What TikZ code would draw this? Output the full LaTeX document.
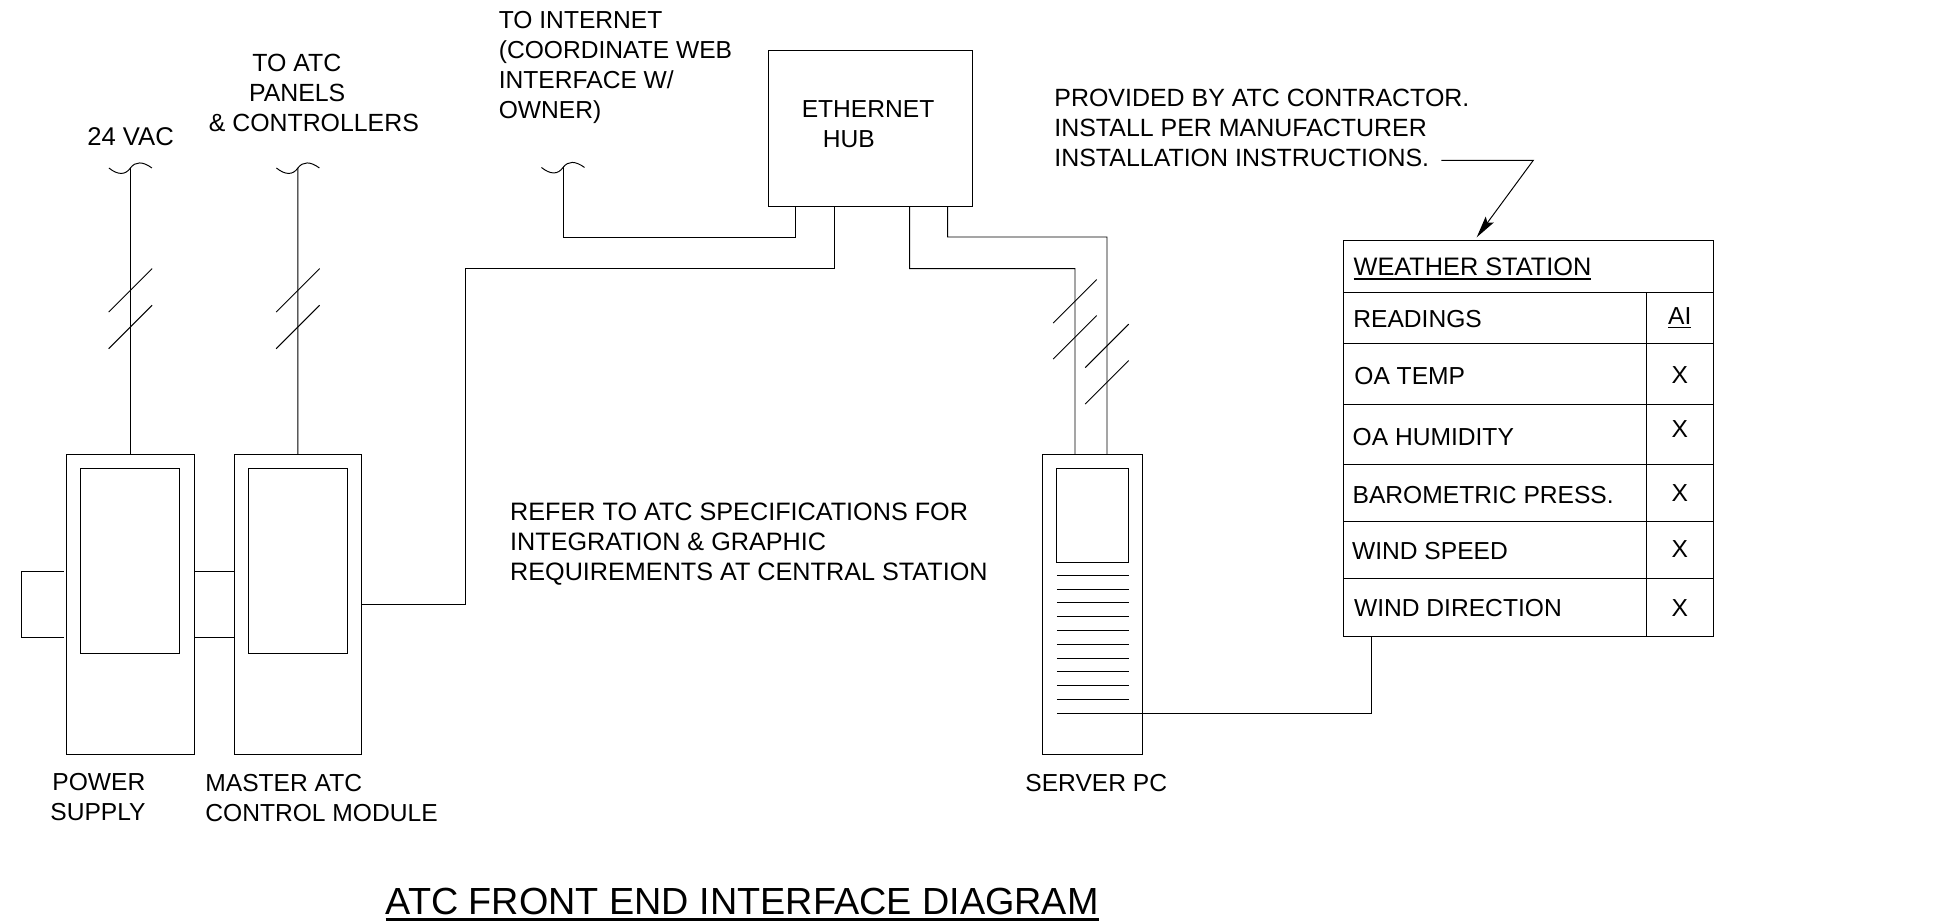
\documentclass[tikz,border=0pt]{standalone}
\usepackage{fontspec}
\usepackage{tikz}
\usetikzlibrary{
arrows.meta,
positioning
}
\setmainfont{Liberation Sans}
\newcommand{\ulined}[1]{\setbox0\hbox{#1}\rlap{\vrule width\wd0 height -0.09em depth 0.165em}\box0}

\begin{document}
\begin{tikzpicture}[
wire/.style={line width=0.55pt},
arrow/.style={wire,-{Stealth[length=0.44cm,width=0.2cm,inset=0.08cm]}},
module/.style={
draw,
wire,
inner sep=0pt,
outer sep=0pt,
minimum width=2.55cm,
minimum height=6cm
},
panel/.style={
draw,
wire,
inner sep=0pt,
outer sep=0pt,
minimum width=1.98cm,
minimum height=3.7cm
},
cell/.style={
draw,
wire,
inner sep=0pt,
outer sep=0pt,
minimum width=6.054cm
},
markcell/.style={
draw,
wire,
inner sep=0pt,
outer sep=0pt,
minimum width=1.346cm
},
txt/.style={
anchor=base west,
inner sep=0pt,
align=left,
font=\fontsize{14pt}{17.07pt}\selectfont
},
ctxt/.style={
txt,
anchor=base
},
breakmark/.pic={
\draw[wire] (-0.43,0) .. controls (-0.25,-0.145) and (-0.1,-0.145) .. (0,0)
.. controls (0.1,0.135) and (0.25,0.135) .. (0.43,0);
},
slash/.pic={
\draw[wire] (-0.435,-0.435) -- (0.435,0.435);
}
]

\useasboundingbox (0,0) rectangle (38.76,18.44);

\node[module] (supply) at (2.608,6.35) {};
\node[module,right=0.8cm of supply] (master) {};
\node[module,minimum width=2cm,right=13.623cm of master] (server) {};

\node[panel,below=0.28cm of supply.north] (supplypanel) {};
\node[panel,below=0.28cm of master.north] (masterpanel) {};
\node[panel,minimum width=1.44cm,minimum height=1.87cm,below=0.28cm of server.north] (serverscreen) {};

\node[draw,wire,inner sep=0pt,outer sep=0pt,minimum width=4.08cm,minimum height=3.126cm] (hub) at (17.41,15.877) {};

\coordinate (vac) at (2.608,15.08);
\coordinate (panels) at (5.958,15.08);
\coordinate (internet) at (11.26,15.09);

\pic at (vac) {breakmark};
\pic at (panels) {breakmark};
\pic at (internet) {breakmark};

\draw[wire] (vac) -- (supply.north);
\draw[wire] (panels) -- (master.north);
\draw[wire] (internet) -- (11.26,13.7) -| ([xshift=0.544cm]hub.south west);
\draw[wire] (master.east) -| (9.3,13.066) -| ([xshift=1.31cm]hub.south west);
\draw[wire] ([xshift=2.824cm]hub.south west) |- (21.5,13.066) -- ([xshift=-0.356cm]server.north);
\draw[wire] ([xshift=3.582cm]hub.south west) |- (22.14,13.7) -- ([xshift=0.284cm]server.north);

\pic at (2.608,12.634) {slash};
\pic at (2.608,11.9) {slash};
\pic at (5.958,12.634) {slash};
\pic at (5.958,11.9) {slash};
\pic at (21.5,12.414) {slash};
\pic at (21.5,11.694) {slash};
\pic at (22.14,11.522) {slash};
\pic at (22.14,10.794) {slash};

\draw[wire] ([shift={(-0.06,0.66)}]supply.west) -- ++(-0.85,0) -- ++(0,-1.32) -- ++(0.85,0);
\draw[wire] ([yshift=0.66cm]supply.east) -- ([yshift=0.66cm]master.west);
\draw[wire] ([yshift=-0.66cm]supply.east) -- ([yshift=-0.66cm]master.west);

\draw[wire] ([yshift=-0.266cm]serverscreen.south west) -- ([yshift=-0.266cm]serverscreen.south east);
\draw[wire] ([yshift=-0.542cm]serverscreen.south west) -- ([yshift=-0.542cm]serverscreen.south east);
\draw[wire] ([yshift=-0.818cm]serverscreen.south west) -- ([yshift=-0.818cm]serverscreen.south east);
\draw[wire] ([yshift=-1.094cm]serverscreen.south west) -- ([yshift=-1.094cm]serverscreen.south east);
\draw[wire] ([yshift=-1.37cm]serverscreen.south west) -- ([yshift=-1.37cm]serverscreen.south east);
\draw[wire] ([yshift=-1.646cm]serverscreen.south west) -- ([yshift=-1.646cm]serverscreen.south east);
\draw[wire] ([yshift=-1.922cm]serverscreen.south west) -- ([yshift=-1.922cm]serverscreen.south east);
\draw[wire] ([yshift=-2.198cm]serverscreen.south west) -- ([yshift=-2.198cm]serverscreen.south east);
\draw[wire] ([yshift=-2.474cm]serverscreen.south west) -- ([yshift=-2.474cm]serverscreen.south east);
\draw[wire] ([yshift=-2.75cm]serverscreen.south west) -- ([yshift=-2.75cm]serverscreen.south east);

\node[draw,wire,inner sep=0pt,outer sep=0pt,minimum width=7.4cm,minimum height=1.04cm] (station) at (30.566,13.12) {};
\node[cell,minimum height=1.026cm,anchor=north west] (rowreadings) at (station.south west) {};
\node[cell,minimum height=1.214cm,anchor=north west] (rowtemp) at (rowreadings.south west) {};
\node[cell,minimum height=1.206cm,anchor=north west] (rowhumidity) at (rowtemp.south west) {};
\node[cell,minimum height=1.134cm,anchor=north west] (rowpress) at (rowhumidity.south west) {};
\node[cell,minimum height=1.146cm,anchor=north west] (rowspeed) at (rowpress.south west) {};
\node[cell,minimum height=1.154cm,anchor=north west] (rowdirection) at (rowspeed.south west) {};
\node[markcell,minimum height=1.026cm,right=0cm of rowreadings] (markreadings) {};
\node[markcell,minimum height=1.214cm,right=0cm of rowtemp] (marktemp) {};
\node[markcell,minimum height=1.206cm,right=0cm of rowhumidity] (markhumidity) {};
\node[markcell,minimum height=1.134cm,right=0cm of rowpress] (markpress) {};
\node[markcell,minimum height=1.146cm,right=0cm of rowspeed] (markspeed) {};
\node[markcell,minimum height=1.154cm,right=0cm of rowdirection] (markdirection) {};

\draw[wire] ([yshift=-3.026cm]serverscreen.south west) -| ([xshift=0.56cm]rowdirection.south west);

\coordinate (notestart) at (28.826,15.234);
\coordinate (noteelbow) at (30.666,15.234);
\coordinate (notetip) at (29.534,13.694);
\draw[arrow] (notestart) -- (noteelbow) -- (notetip);

\node[txt,font=\fontsize{14.6pt}{17.07pt}\selectfont] (vaclabel) at (1.74,15.526) {24 VAC};
\node[txt,font=\fontsize{14.15pt}{17.07pt}\selectfont] (panelslabel) at (4.17,15.8) {\hspace*{0.87cm}TO ATC\\\hspace*{0.804cm}PANELS\\\& CONTROLLERS};
\node[txt] (internetlabel) at (9.97,16.074) {TO INTERNET\\(COORDINATE WEB\\INTERFACE W/\\OWNER)};
\node[txt] (hublabel) at (16.028,15.486) {ETHERNET\\\hspace*{0.42cm}HUB};
\node[txt,font=\fontsize{14.2pt}{17.07pt}\selectfont] (notelabel) at (21.08,15.106) {PROVIDED BY ATC CONTRACTOR.\\INSTALL PER MANUFACTURER\\INSTALLATION INSTRUCTIONS.};
\node[txt,font=\fontsize{14.34pt}{17.07pt}\selectfont] (referlabel) at (10.196,6.826) {REFER TO ATC SPECIFICATIONS FOR\\INTEGRATION \& GRAPHIC\\REQUIREMENTS AT CENTRAL STATION};
\node[txt] (supplylabel) at (1.0,2.026) {\hspace*{0.04cm}POWER\\SUPPLY};
\node[txt] (masterlabel) at (4.1,2.006) {MASTER ATC\\CONTROL MODULE};
\node[txt] (serverlabel) at (20.5,2.606) {SERVER PC};

\node[txt,font=\fontsize{14.4pt}{17.07pt}\selectfont] (stationlabel) at (27.066,12.92) {\ulined{WEATHER STATION}};
\node[txt] (readingslabel) at (27.06,11.894) {READINGS};
\node[txt] (templabel) at (27.08,10.746) {OA TEMP};
\node[txt] (humiditylabel) at (27.046,9.52) {OA HUMIDITY};
\node[txt] (presslabel) at (27.046,8.374) {BAROMETRIC PRESS.};
\node[txt] (speedlabel) at (27.034,7.24) {WIND SPEED};
\node[txt] (directionlabel) at (27.074,6.106) {WIND DIRECTION};
\node[ctxt] (ailabel) at (33.594,11.954) {\ulined{AI}};
\node[ctxt] (tempx) at (33.594,10.774) {X};
\node[ctxt] (humidityx) at (33.594,9.694) {X};
\node[ctxt] (pressx) at (33.594,8.414) {X};
\node[ctxt] (speedx) at (33.594,7.28) {X};
\node[ctxt] (directionx) at (33.594,6.106) {X};

\node[txt,font=\fontsize{21.5pt}{25pt}\selectfont] (titlelabel) at (7.706,0.14) {\ulined{ATC FRONT END INTERFACE DIAGRAM}};

\end{tikzpicture}
\end{document}
